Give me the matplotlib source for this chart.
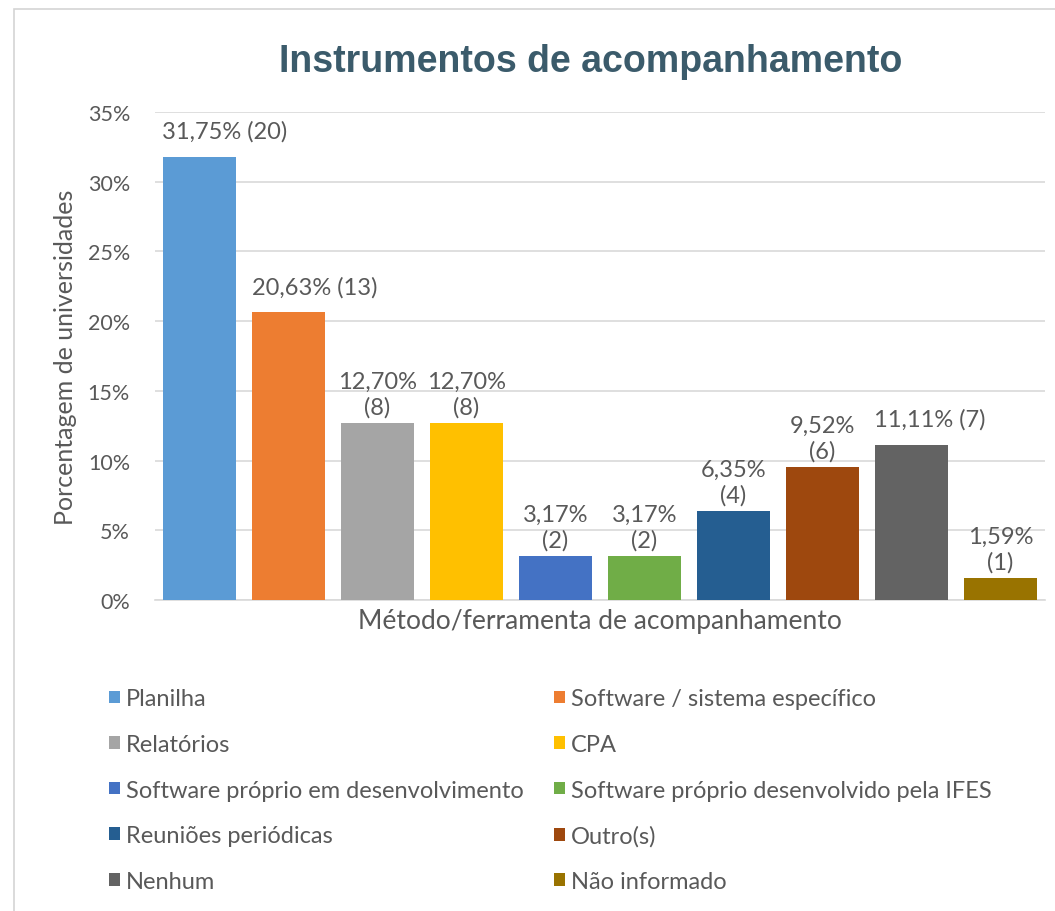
import numpy as np
import matplotlib.pyplot as plt
from matplotlib.patches import Patch, Rectangle

# Dados
categorias = ["Planilha", "Software / sistema específico", "Relatórios", "CPA",
              "Software próprio em desenvolvimento", "Software próprio desenvolvido pela IFES",
              "Reuniões periódicas", "Outro(s)", "Nenhum", "Não informado"]
percentuais = [31.75, 20.63, 12.70, 12.70, 3.17, 3.17, 6.35, 9.52, 11.11, 1.59]
contagens = [20, 13, 8, 8, 2, 2, 4, 6, 7, 1]
cores = ["#5B9BD5", "#ED7D31", "#A5A5A5", "#FFC000", "#4472C4",
         "#70AD47", "#255E91", "#9E480E", "#636363", "#997300"]
uma_linha = [True, True, False, False, False, False, False, False, True, False]
deslocamento_rotulo = [25, 26, 0, 0, 0, 0, 0, 0, 18, 0]  # em pixels, como no Excel

cinza = "#595959"
plt.rcParams['font.family'] = ['Lato', 'DejaVu Sans']

fig = plt.figure(figsize=(10.55, 9.12), dpi=100)
# moldura do gráfico
fig.patches.append(Rectangle((14 / 1055, -0.1), 1.2, 1 - 10 / 912 + 0.1, transform=fig.transFigure,
                             fill=False, edgecolor="#D4D4D4", linewidth=1.2))

ax = fig.add_axes([155 / 1055, 1 - 601 / 912, 890 / 1055, 488 / 912])
x = np.arange(len(categorias))
ax.bar(x, percentuais, width=0.83, color=cores, zorder=3)

for i, (p, c) in enumerate(zip(percentuais, contagens)):
    txt = ("%.2f%%" % p).replace(".", ",")
    if uma_linha[i]:
        rotulo = "%s (%d)" % (txt, c)
        dy = 11
    else:
        rotulo = "%s\n(%d)" % (txt, c)
        dy = 4
    ax.annotate(rotulo, (i, p), xytext=(deslocamento_rotulo[i] * 0.72, dy), textcoords="offset points",
                ha="center", va="bottom", fontsize=17, color=cinza, linespacing=1.25)

ax.set_xlim(-0.5, len(categorias) - 0.5)
ax.set_ylim(0, 35)
ax.set_yticks(range(0, 36, 5))
ax.set_yticklabels(["%d%%" % v for v in range(0, 36, 5)])
ax.set_xticks([])
ax.tick_params(axis="y", length=0, labelsize=15.5, labelcolor=cinza, pad=18)
ax.grid(axis="y", color="#D9D9D9", linewidth=1.2, zorder=0)
for s in ["top", "right", "left"]:
    ax.spines[s].set_visible(False)
ax.spines["bottom"].set_color("#D9D9D9")
ax.spines["bottom"].set_linewidth(1.2)

ax.set_ylabel("Porcentagem de universidades", fontsize=18, color=cinza, labelpad=8)
ax.set_xlabel("Método/ferramenta de acompanhamento", fontsize=19, color=cinza, labelpad=6)

fig.text(591 / 1055, 1 - 62 / 912, "Instrumentos de acompanhamento", ha="center", va="center",
         fontsize=27, fontweight="bold", color="#3B5B6B", family="Liberation Sans")

# legenda em duas colunas (preenchida por linhas)
handles = [Patch(facecolor=c, label=n) for c, n in zip(cores, categorias)]
for col, xpos in [(0, 100), (1, 545)]:
    leg = fig.legend(handles=handles[col::2], loc="upper left",
                     bbox_to_anchor=(xpos / 1055, 1 - 680 / 912), frameon=False,
                     fontsize=17, handlelength=0.45, handleheight=0.45, handletextpad=0.25,
                     labelspacing=1.04, borderaxespad=0)
    for t in leg.get_texts():
        t.set_color(cinza)

fig.savefig("out.png", dpi=100)
